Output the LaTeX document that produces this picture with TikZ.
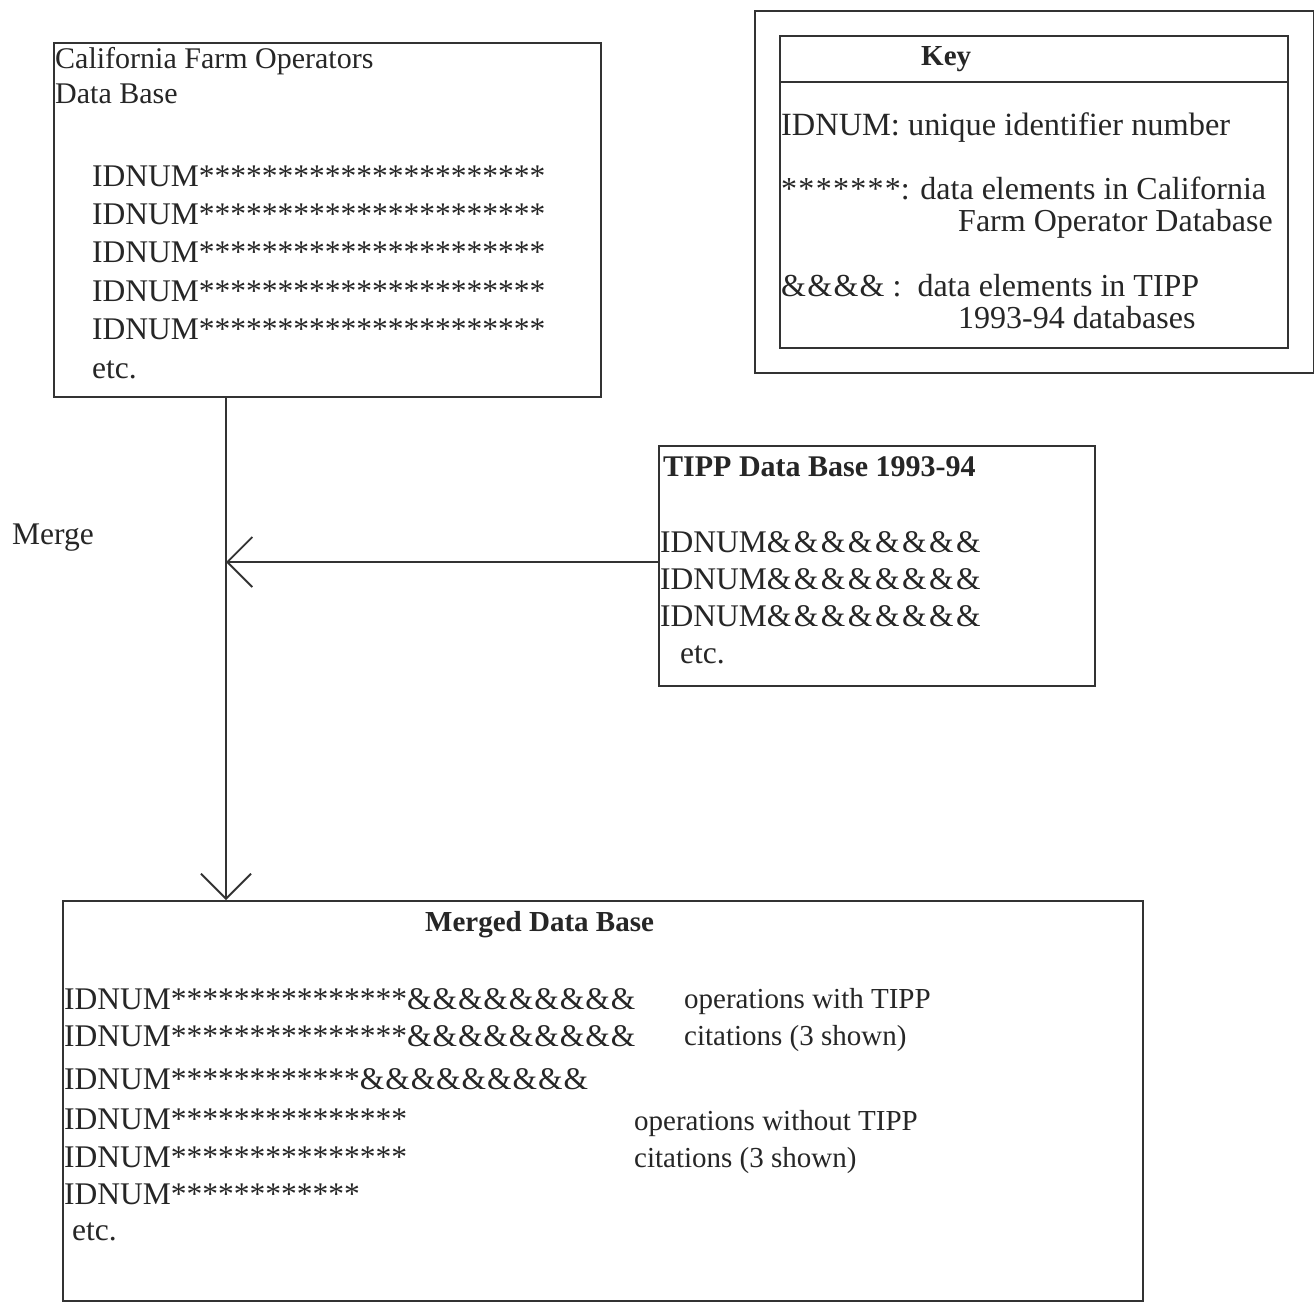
\documentclass[tikz,border=0pt]{standalone}
\usepackage{fontspec}
\setmainfont{Liberation Serif}
\usetikzlibrary{arrows.meta}
\definecolor{ink}{HTML}{262626}
\definecolor{linec}{HTML}{333333}
\newcommand{\myfs}[1]{\fontsize{#1pt}{#1pt}\selectfont}
\newcommand{\wide}[2]{{\addfontfeature{LetterSpace=#1}#2}}
\begin{document}
\begin{tikzpicture}[x=1pt,y=-1pt,
  box/.style={draw=linec,line width=1.8pt,anchor=north west,inner sep=0pt},
  txt/.style={anchor=base west,inner sep=0pt,text=ink,font=\myfs{31.5}},
  keytxt/.style={anchor=base west,inner sep=0pt,text=ink,font=\myfs{32}},
  note/.style={anchor=base west,inner sep=0pt,text=ink,font=\myfs{29}},
  ttl/.style={anchor=base west,inner sep=0pt,text=ink,font=\myfs{29}\bfseries},
  conn/.style={draw=linec,line width=1.8pt},
  tipend/.style={-{Straight Barb[length=25pt,width=50pt]}}]
\useasboundingbox (0,0) rectangle (1314,1302);
\fill[white] (0,0) rectangle (1314,1302);

% boxes
\node[box,minimum width=547pt,minimum height=354pt] (cfo) at (53,42) {};
\node[box,minimum width=559pt,minimum height=362pt] (keyout) at (754,10) {};
\node[box,minimum width=508pt,minimum height=312pt] (keyin) at (779,35) {};
\coordinate (kd) at (0,82);
\draw[conn] (keyin.west |- kd) -- (keyin.east |- kd);
\node[box,minimum width=436pt,minimum height=240pt] (tipp) at (658,445) {};
\node[box,minimum width=1080pt,minimum height=400pt] (merged) at (62,900) {};

% connectors
\coordinate (mx) at (226,562);
\draw[conn,tipend] (cfo.south -| mx) -- (merged.north -| mx);
\draw[conn,tipend] (tipp.west |- mx) -- (mx);
\node[txt] (merge) at (12,544) {Merge};

% California box
\node[txt,font=\myfs{30}] (c1) at (55,68) {California Farm Operators};
\node[txt,font=\myfs{30}] (c2) at (55,103) {Data Base};
\node[txt] (c3) at (92,186) {IDNUM**********************};
\node[txt] (c4) at (92,224) {IDNUM**********************};
\node[txt] (c5) at (92,262) {IDNUM**********************};
\node[txt] (c6) at (92,301) {IDNUM**********************};
\node[txt] (c7) at (92,339) {IDNUM**********************};
\node[txt] (c8) at (92,378) {etc.};

% Key
\node[ttl] (k0) at (921,65) {Key};
\node[keytxt,font=\myfs{32.4}] (k1) at (781,135) {IDNUM: unique identifier number};
\node[keytxt] (k2) at (781,199) {\wide{4}{*******}: data elements in California};
\node[keytxt] (k3) at (958,231) {Farm Operator Database};
\node[keytxt] (k4) at (781,296) {\wide{4}{\&\&\&\&} :\ \ data elements in TIPP};
\node[keytxt] (k5) at (958,328) {1993-94 databases};

% TIPP box
\node[ttl,font=\myfs{30}\bfseries] (t0) at (663,476) {TIPP Data Base 1993-94};
\node[txt] (t1) at (660,552) {IDNUM\wide{8}{\&\&\&\&\&\&\&\&}};
\node[txt] (t2) at (660,589) {IDNUM\wide{8}{\&\&\&\&\&\&\&\&}};
\node[txt] (t3) at (660,626) {IDNUM\wide{8}{\&\&\&\&\&\&\&\&}};
\node[txt] (t4) at (680,663) {etc.};

% Merged box
\node[ttl] (m0) at (425,931) {Merged Data Base};
\node[txt] (m1) at (64,1009) {IDNUM***************\wide{3}{\&\&\&\&\&\&\&\&\&}};
\node[txt] (m2) at (64,1046) {IDNUM***************\wide{3}{\&\&\&\&\&\&\&\&\&}};
\node[txt] (m3) at (64,1089) {IDNUM************\wide{3}{\&\&\&\&\&\&\&\&\&}};
\node[txt] (m4) at (64,1129) {IDNUM***************};
\node[txt] (m5) at (64,1167) {IDNUM***************};
\node[txt] (m6) at (64,1204) {IDNUM************};
\node[txt] (m7) at (72,1240) {etc.};
\node[note] (n1) at (684,1008) {operations with TIPP};
\node[note] (n2) at (684,1045) {citations (3 shown)};
\node[note] (n3) at (634,1130) {operations without TIPP};
\node[note] (n4) at (634,1167) {citations (3 shown)};
\end{tikzpicture}
\end{document}
